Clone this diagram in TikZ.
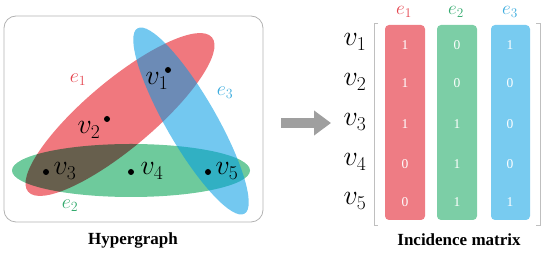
\documentclass[tikz,border=0pt]{standalone}
\usepackage{fix-cm}
\usepackage{fontspec}
\setmainfont{Liberation Serif}
\usetikzlibrary{arrows.meta}

\definecolor{hred}{RGB}{240,120,126}
\definecolor{hgreen}{RGB}{110,202,156}
\definecolor{hblue}{RGB}{0,155,228}
\definecolor{cred}{RGB}{238,124,132}
\definecolor{cgreen}{RGB}{124,206,166}
\definecolor{cblue}{RGB}{120,203,240}
\definecolor{tred}{RGB}{228,68,78}
\definecolor{tgreen}{RGB}{52,170,110}
\definecolor{tblue}{RGB}{60,172,222}

\begin{document}
\begin{tikzpicture}[x=1pt,y=-1pt,
  vlabel/.style={font=\fontsize{28}{32}\selectfont},
  elabel/.style={font=\fontsize{20}{24}\selectfont},
  hlabel/.style={font=\fontsize{19}{22}\selectfont, anchor=base, inner sep=0pt},
  entry/.style={font=\fontsize{13.5}{15}\selectfont, white},
  caption/.style={font=\fontsize{17}{20}\selectfont\bfseries},
  column/.style={rounded corners=4pt}]

% --- Cadre ---
\useasboundingbox (0,0) rectangle (550,253);

% --- Hypergraphe : cadre ---
\draw[gray!60, line width=0.8pt, rounded corners=12pt] (4,16) rectangle (263,222);

% --- Hyperarêtes ---
\fill[hred, blend mode=multiply]
    (120,114.5) ellipse [x radius=120, y radius=34, rotate=40];
\fill[hgreen, blend mode=multiply]
    (131,170.5) ellipse [x radius=119, y radius=26.5];
\fill[hblue, opacity=0.55]
    (191,121) ellipse [x radius=107, y radius=25, rotate=-60];

% --- Sommets ---
\fill (168,70) circle (3);
\fill (107,119) circle (3);
\fill (46,172) circle (3);
\fill (131,172) circle (3);
\fill (208,172) circle (3);

\node[vlabel] (v1) at (157,81)  {$v_1$};
\node[vlabel] (v2) at (89,130)  {$v_2$};
\node[vlabel] (v3) at (65,171)  {$v_3$};
\node[vlabel] (v4) at (152,171) {$v_4$};
\node[vlabel] (v5) at (227,171) {$v_5$};

% --- Étiquettes des hyperarêtes ---
\node[elabel, tred]   (e1) at (78,80)  {$e_1$};
\node[elabel, tgreen] (e2) at (70,206) {$e_2$};
\node[elabel, tblue]  (e3) at (225,93) {$e_3$};

\node[caption] (hg) at (133,240) {Hypergraph};

% --- Flèche ---
\coordinate (a0) at (281,123);
\coordinate (a1) at (331,123);
\draw[gray!75, line width=10pt, -{Triangle[length=17pt, width=24pt]}] (a0) -- (a1);

% --- Matrice d'incidence : colonnes ---
\fill[column, cred]   (385,25) rectangle (425,220);
\fill[column, cgreen] (437,25) rectangle (477,220);
\fill[column, cblue]  (491,25) rectangle (530,220);

% --- Crochets ---
\draw[gray!50, line width=0.6pt] (378,23) -- (374,23) -- (374,225) -- (378,225);
\draw[gray!50, line width=0.6pt] (536,23) -- (540,23) -- (540,225) -- (536,225);

% --- En-têtes ---
\node[hlabel, tred]   (h1) at (404,15) {$e_1$};
\node[hlabel, tgreen] (h2) at (456,15) {$e_2$};
\node[hlabel, tblue]  (h3) at (510,15) {$e_3$};

% --- Lignes ---
\foreach \r/\y in {1/42, 2/82, 3/122, 4/162, 5/201}
  \node[vlabel] (r\r) at (355,\y) {$v_\r$};

% --- Coefficients ---
\foreach \r/\y/\a/\b/\c in {1/45/1/0/1, 2/83/1/0/0, 3/124/1/1/0, 4/164/0/1/0, 5/202/0/1/1} {
  \node[entry] (m\r-1) at (405,\y) {\a};
  \node[entry] (m\r-2) at (457,\y) {\b};
  \node[entry] (m\r-3) at (510,\y) {\c};
}

\node[caption] (im) at (459,240) {Incidence matrix};

\end{tikzpicture}
\end{document}
